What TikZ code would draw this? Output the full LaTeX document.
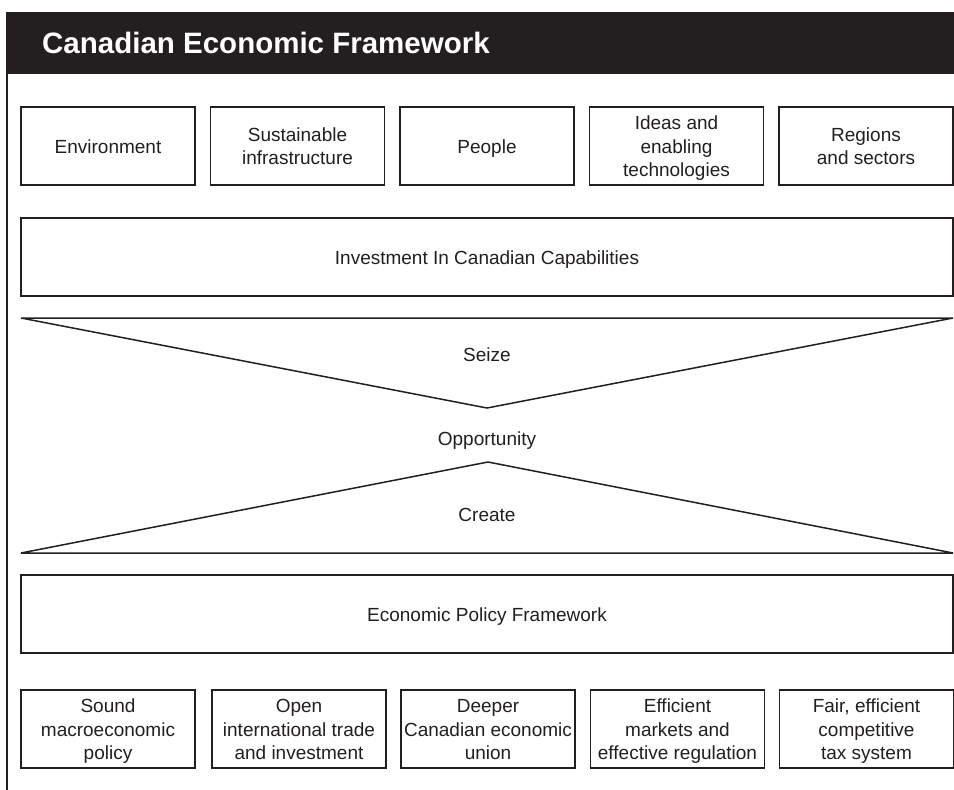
\documentclass[tikz,border=0pt]{standalone}
\usepackage{fontspec}
\setmainfont{Liberation Sans}
\definecolor{ink}{HTML}{231F20}
\newcommand{\ms}{\rule[-4.75pt]{0pt}{23.5pt}}
\begin{document}
\begin{tikzpicture}[x=1pt,y=-1pt,
  every node/.style={text=ink},
  box/.style={draw=ink,line width=1.5pt,rectangle,inner sep=0pt,align=center,
    minimum height=78pt,font=\fontsize{19}{23.5}\selectfont},
  smallbox/.style={box,minimum width=174pt},
  widebox/.style={box,minimum width=932pt},
  lbl/.style={font=\fontsize{19}{23.5}\selectfont,inner sep=0pt},
  shapeline/.style={draw=ink,line width=1.5pt,line join=miter}]
\useasboundingbox (0,0) rectangle (954,790);
\fill[white] (0,0) rectangle (954,790);
% header
\fill[ink] (6,12) rectangle (954,74);
\draw[ink,line width=1.5pt] (7,74) -- (7,790);
\node[anchor=base west,text=white,inner sep=0pt,font=\fontsize{29.5}{32}\selectfont\bfseries] (title) at (42,53) {Canadian Economic Framework};
% top row
\node[smallbox] (env) at (108,146) {\ms Environment};
\node[smallbox] (infra) at (297.5,146) {\ms Sustainable\\\ms infrastructure};
\node[smallbox] (people) at (487,146) {\ms People};
\node[smallbox] (ideas) at (676.5,146) {\ms Ideas and\\\ms enabling\\\ms technologies};
\node[smallbox] (regions) at (866,146) {\ms Regions\\\ms and sectors};
% investment
\node[widebox] (invest) at (487,257) {\ms Investment In Canadian Capabilities};
% triangles
\coordinate (sTL) at (21,318);
\coordinate (sTR) at (953,318);
\coordinate (sApex) at (487,408);
\coordinate (cBL) at (21,553);
\coordinate (cBR) at (953,553);
\coordinate (cApex) at (488,462);
\draw[shapeline] (sTL) -- (sTR) -- (sApex) -- cycle;
\draw[shapeline] (cBL) -- (cBR) -- (cApex) -- cycle;
\node[lbl] (seize) at (487,354) {\ms Seize};
\node[lbl] (opp) at (487,438) {\ms Opportunity};
\node[lbl] (create) at (487,514) {\ms Create};
% economic policy framework
\node[widebox] (epf) at (487,614) {\ms Economic Policy Framework};
% bottom row
\node[smallbox] (sound) at (108,729) {\ms Sound\\\ms macroeconomic\\\ms policy};
\node[smallbox] (open) at (299,729) {\ms Open\\\ms international trade\\\ms and investment};
\node[smallbox] (deeper) at (488,729) {\ms Deeper\\\ms Canadian economic\\\ms union};
\node[smallbox] (effic) at (677.5,729) {\ms Efficient\\\ms markets and\\\ms effective regulation};
\node[smallbox] (fair) at (866.5,729) {\ms Fair, efficient\\\ms competitive\\\ms tax system};
\end{tikzpicture}
\end{document}
